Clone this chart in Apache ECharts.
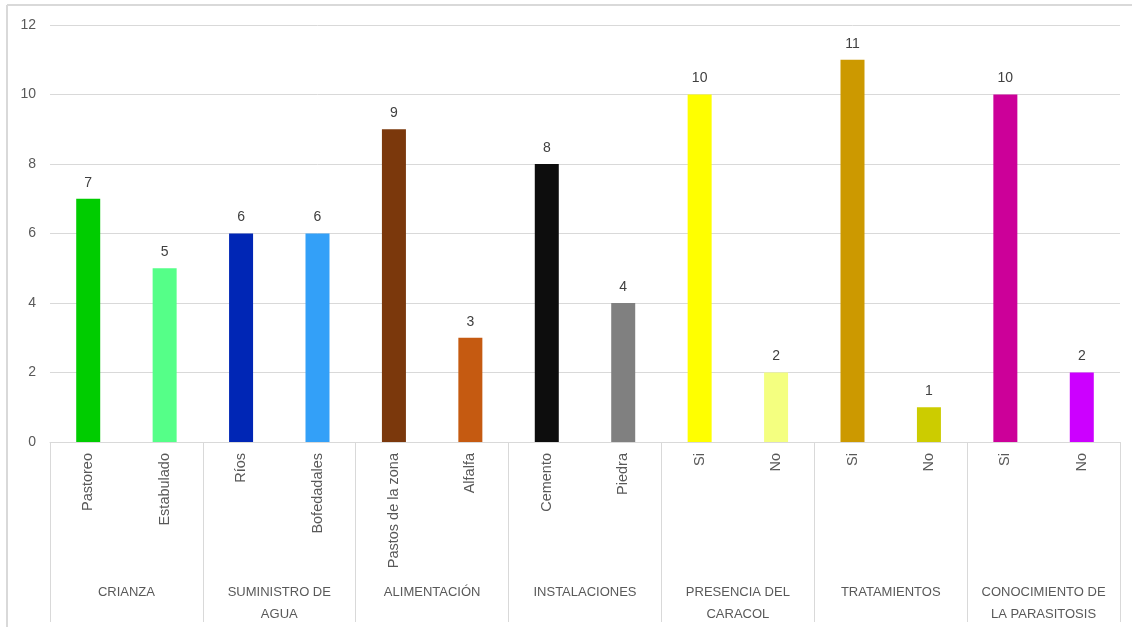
<!DOCTYPE html>
<html>
<head>
<meta charset="utf-8">
<script src="https://cdn.jsdelivr.net/npm/echarts@6/dist/echarts.min.js"></script>
<style>
html,body{margin:0;padding:0;background:#fff;}
#chart{width:1132px;height:627px;}
</style>
</head>
<body>
<div id="chart"></div>
<script>
const categories = ['Pastoreo','Estabulado','Ríos','Bofedadales','Pastos de la zona','Alfalfa','Cemento','Piedra','Si','No','Si','No','Si','No'];
const values = [7,5,6,6,9,3,8,4,10,2,11,1,10,2];
const groups = ['CRIANZA','SUMINISTRO DE\nAGUA','ALIMENTACIÓN','INSTALACIONES','PRESENCIA DEL\nCARACOL','TRATAMIENTOS','CONOCIMIENTO DE\nLA PARASITOSIS'];
const barColors = ['#00CC00','#55FF88','#0026B5','#33A0F8','#7B380C','#C55A11','#0D0D0D','#808080','#FFFF00','#F4FF80','#CC9900','#CCCC00','#CC0099','#CC00FF'];
const yTicks = [0,2,4,6,8,10,12];

const font = 'Liberation Sans, Arial, sans-serif';
const chart = echarts.init(document.getElementById('chart'));
chart.setOption({
  animation: false,
  backgroundColor: '#fff',
  graphic: [
    {type:'line', shape:{x1:7,y1:5,x2:1132,y2:5}, style:{stroke:'#d9d9d9',lineWidth:2}},
    {type:'line', shape:{x1:7,y1:5,x2:7,y2:627}, style:{stroke:'#d9d9d9',lineWidth:2}}
  ],
  grid: {left:50, right:12, top:25, bottom:185, containLabel:false},
  xAxis: [
    {
      type:'category', data:categories, position:'bottom',
      axisLine:{show:true, lineStyle:{color:'#d9d9d9', width:1}},
      axisTick:{show:false},
      axisLabel:{rotate:90, margin:11, color:'#595959', fontSize:14.5, fontFamily:font, interval:0}
    },
    {
      type:'category', data:groups, position:'bottom', offset:0,
      axisLine:{show:false},
      axisTick:{show:true, length:180, lineStyle:{color:'#d9d9d9', width:1}},
      axisLabel:{margin:139, color:'#595959', fontSize:13, lineHeight:22, fontFamily:font, interval:0}
    }
  ],
  yAxis: {
    type:'value', min:yTicks[0], max:yTicks[yTicks.length-1], interval:2,
    axisLine:{show:false}, axisTick:{show:false},
    splitLine:{lineStyle:{color:'#d9d9d9', width:1}},
    axisLabel:{margin:14, color:'#595959', fontSize:14, fontFamily:font}
  },
  series: [{
    type:'bar', xAxisIndex:0, barWidth:24,
    data: values.map((v,i)=>({value:v, itemStyle:{color:barColors[i]}})),
    label:{show:true, position:'top', distance:9, color:'#404040', fontSize:14, fontFamily:font}
  }]
});
</script>
</body>
</html>
